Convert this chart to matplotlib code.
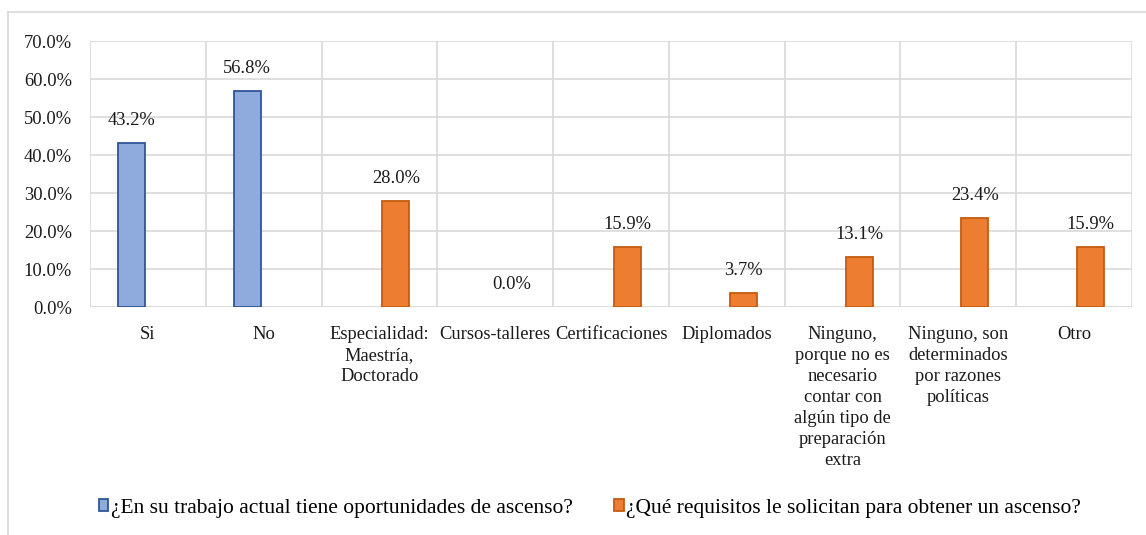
import numpy as np
import matplotlib
matplotlib.use('Agg')
import matplotlib.pyplot as plt
from matplotlib.lines import Line2D

categorias = ["Si", "No", "Especialidad:\nMaestría,\nDoctorado", "Cursos-talleres",
              "Certificaciones", "Diplomados",
              "Ninguno,\nporque no es\nnecesario\ncontar con\nalgún tipo de\npreparación\nextra",
              "Ninguno, son\ndeterminados\npor razones\npolíticas", "Otro"]
serie_ascenso = [43.2, 56.8, None, None, None, None, None, None, None]
serie_requisitos = [None, None, 28.0, 0.0, 15.9, 3.7, 13.1, 23.4, 15.9]
nombre_ascenso = "¿En su trabajo actual tiene oportunidades de ascenso?"
nombre_requisitos = "¿Qué requisitos le solicitan para obtener un ascenso?"
yticks = [0, 10, 20, 30, 40, 50, 60, 70]

plt.rcParams['font.family'] = ['Liberation Serif', 'DejaVu Serif']
fs = 13.3

W, H = 1146, 535
fig = plt.figure(figsize=(W / 100, H / 100), dpi=100)
ax = fig.add_axes([90 / W, 1 - 307 / H, 1042 / W, 266 / H])

# borde exterior del grafico (solo izquierda y arriba quedan visibles)
fig.add_artist(Line2D([8 / W, 8 / W], [0, 1 - 12 / H], color='#d9d9d9', lw=1.2))
fig.add_artist(Line2D([8 / W, 1], [1 - 12 / H, 1 - 12 / H], color='#d9d9d9', lw=1.2))

x = np.arange(len(categorias))
ancho = 0.233
desp = 0.1425

def dibujar(valores, offset, relleno, borde, etiqueta):
    xs = [xi + offset for xi, v in zip(x, valores) if v is not None]
    vs = [v for v in valores if v is not None]
    barras = ax.bar(xs, vs, width=ancho, color=relleno, edgecolor=borde,
                    linewidth=1.3, label=etiqueta, zorder=3)
    for b, v in zip(barras, vs):
        if v == 0:
            b.set_linewidth(0)
        ax.annotate(f"{v:.1f}%", (b.get_x() + b.get_width() / 2, v),
                    xytext=(0, 16), textcoords='offset points',
                    ha='center', va='center', fontsize=fs, color='#1a1a1a')

dibujar(serie_ascenso, -desp, '#8faadc', '#2f5597', nombre_ascenso)
dibujar(serie_requisitos, desp, '#ed7d31', '#c55a11', nombre_requisitos)

ax.set_xlim(-0.5, len(categorias) - 0.5)
ax.set_ylim(0, 70)
ax.set_yticks(yticks)
ax.set_yticklabels([f"{t:.1f}%" for t in yticks], fontsize=fs, color='#1a1a1a')
ax.set_xticks(x)
ax.set_xticklabels(categorias, fontsize=fs, color='#1a1a1a', linespacing=1.31)
ax.tick_params(axis='both', length=0)
ax.tick_params(axis='y', pad=13)
ax.tick_params(axis='x', pad=13.5)

# cuadricula: horizontales en cada tick, verticales entre categorias
ax.grid(axis='y', color='#d9d9d9', linewidth=1.2, zorder=0)
for xb in np.arange(-0.5, len(categorias) + 0.5, 1):
    ax.axvline(xb, color='#d9d9d9', linewidth=1.2, zorder=0)
for s in ax.spines.values():
    s.set_visible(False)
ax.axhline(0, color='#d9d9d9', linewidth=1.2, zorder=2)

fig.legend(loc='center', bbox_to_anchor=(590 / W, 1 - 508 / H), ncol=2,
           frameon=False, fontsize=15.5, handlelength=0.45, handleheight=0.5,
           handletextpad=0.1, columnspacing=1.95)

fig.savefig('out.png', dpi=100)
